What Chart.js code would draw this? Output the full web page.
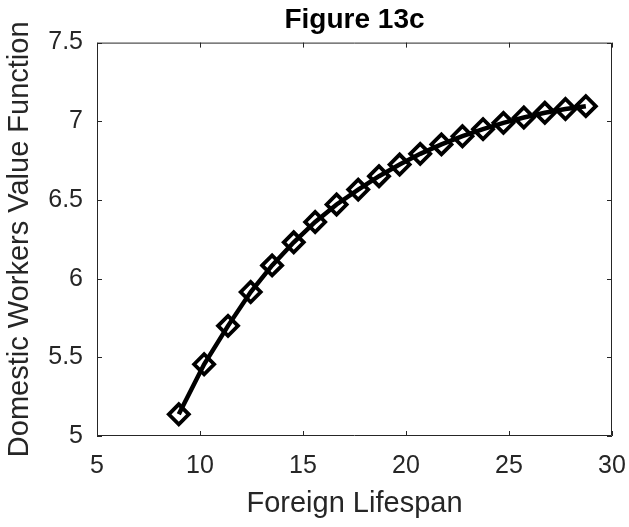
<!DOCTYPE html>
<html>
<head>
<meta charset="utf-8">
<title>Figure 13c</title>
<script src="https://cdn.jsdelivr.net/npm/chart.js@4/dist/chart.umd.min.js"></script>
<style>
  html, body { margin: 0; padding: 0; background: #ffffff; }
  #wrap { width: 629px; height: 527px; }
</style>
</head>
<body>
<div id="wrap"><canvas id="c" width="629" height="527"></canvas></div>
<script>
// Foreign lifespan (x) and the domestic workers' value function (y)
const lifespan = [8.97, 10.20, 11.36, 12.46, 13.50, 14.55, 15.59, 16.63, 17.68, 18.69,
                  19.69, 20.69, 21.72, 22.74, 23.74, 24.73, 25.72, 26.74, 27.74, 28.73];
const valueFn  = [5.138, 5.456, 5.700, 5.915, 6.084, 6.231, 6.360, 6.471, 6.566, 6.651,
                  6.725, 6.793, 6.853, 6.905, 6.950, 6.990, 7.024, 7.054, 7.078, 7.096];

const xTicks = [5, 10, 15, 20, 25, 30];
const yTicks = [5, 5.5, 6, 6.5, 7, 7.5];

const INK = '#262626';
const FONT = '"Liberation Sans", Arial, Helvetica, sans-serif';

// Box around the axes with short inward tick marks on all four sides
const boxTicks = {
  id: 'boxTicks',
  afterDatasetsDraw(chart) {
    const { ctx, chartArea: a, scales: { x, y } } = chart;
    const len = 5;
    ctx.save();
    ctx.strokeStyle = INK;
    ctx.lineWidth = 1;
    ctx.beginPath();
    ctx.rect(a.left + 0.5, a.top + 0.5, a.right - a.left - 1, a.bottom - a.top - 1);
    xTicks.forEach(v => {
      const px = Math.round(x.getPixelForValue(v)) + 0.5;
      ctx.moveTo(px, a.bottom); ctx.lineTo(px, a.bottom - len);
      ctx.moveTo(px, a.top); ctx.lineTo(px, a.top + len);
    });
    yTicks.forEach(v => {
      const py = Math.round(y.getPixelForValue(v)) + 0.5;
      ctx.moveTo(a.left, py); ctx.lineTo(a.left + len, py);
      ctx.moveTo(a.right, py); ctx.lineTo(a.right - len, py);
    });
    ctx.stroke();
    ctx.restore();
  }
};

new Chart(document.getElementById('c'), {
  type: 'line',
  data: {
    datasets: [{
      data: lifespan.map((v, i) => ({ x: v, y: valueFn[i] })),
      borderColor: '#000000',
      borderWidth: 4.5,
      tension: 0,
      fill: false,
      pointStyle: 'rectRot',
      pointRadius: 10,
      pointHoverRadius: 10,
      pointBorderWidth: 3.8,
      pointBorderColor: '#000000',
      pointBackgroundColor: 'rgba(0,0,0,0)'
    }]
  },
  plugins: [boxTicks],
  options: {
    responsive: false,
    animation: false,
    events: [],
    layout: { padding: { left: 0, right: 17, top: 0, bottom: 0 } },
    plugins: {
      legend: { display: false },
      tooltip: { enabled: false },
      title: {
        display: true,
        fullSize: false,
        text: 'Figure 13c',
        color: '#000000',
        font: { family: FONT, size: 28, weight: 'bold', lineHeight: 1.2 },
        padding: { top: 3, bottom: 6 }
      }
    },
    scales: {
      x: {
        type: 'linear',
        min: 5, max: 30,
        afterBuildTicks: s => { s.ticks = xTicks.map(v => ({ value: v })); },
        afterFit: s => { s.height = 91; s.paddingLeft = 0; s.paddingRight = 0; },
        grid: { display: false, drawTicks: false },
        border: { display: false },
        ticks: { color: INK, font: { family: FONT, size: 25 }, padding: 15, maxRotation: 0 },
        title: {
          display: true, text: 'Foreign Lifespan', color: INK,
          font: { family: FONT, size: 29, lineHeight: 1.2 },
          padding: { top: 0, bottom: 6 }
        }
      },
      y: {
        type: 'linear',
        min: 5, max: 7.5,
        afterBuildTicks: s => { s.ticks = yTicks.map(v => ({ value: v })); },
        afterFit: s => { s.width = 97; s.paddingTop = 0; s.paddingBottom = 0; },
        grid: { display: false, drawTicks: false },
        border: { display: false },
        ticks: {
          color: INK, font: { family: FONT, size: 25 }, padding: 14,
          callback: v => String(v)
        },
        title: {
          display: true, text: 'Domestic Workers Value Function', color: INK,
          font: { family: FONT, size: 29, lineHeight: 1.2 },
          padding: { top: 3, bottom: 0 }
        }
      }
    }
  }
});
</script>
</body>
</html>
